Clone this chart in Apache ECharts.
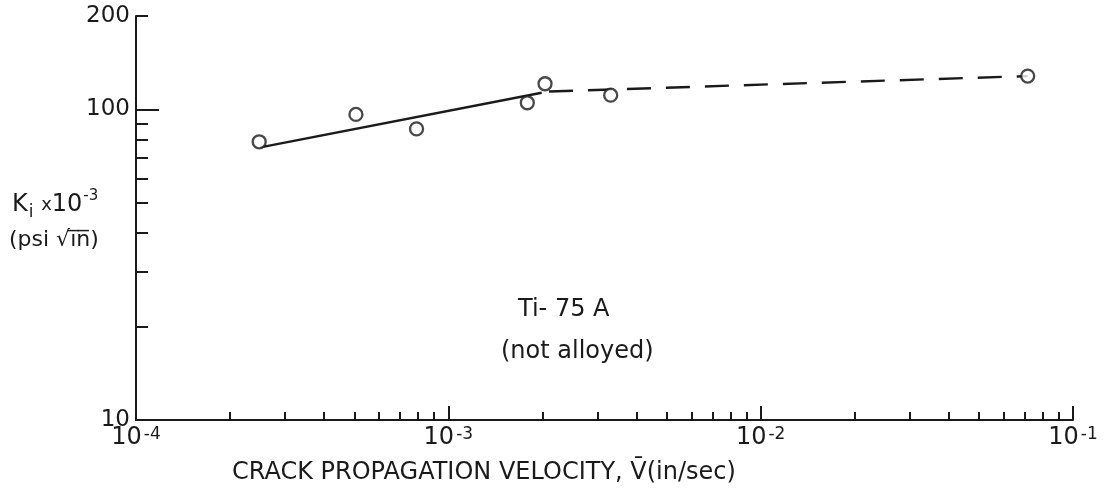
<!DOCTYPE html>
<html>
<head>
<meta charset="utf-8">
<script src="https://cdn.jsdelivr.net/npm/echarts/dist/echarts.min.js"></script>
<style>
html,body{margin:0;padding:0;background:#fff;}
#chart{width:1104px;height:494px;}
</style>
</head>
<body>
<div id="chart"></div>
<script>
// ---- data ----
const velocity = [2.48e-4, 5.06e-4, 7.91e-4, 1.79e-3, 2.04e-3, 3.31e-3, 7.16e-2];
const kiValues = [78.7, 96.4, 86.6, 105.1, 121.0, 111.2, 128.1];
const solidFitV = [2.5e-4, 1.99e-3];
const solidFitK = [75.5, 113.2];
const dashedFitV = [2.1e-3, 7.16e-2];
const dashedFitK = [114.3, 128.1];

// ---- tick / label values ----
const xLabelValues = [1e-4, 1e-3, 1e-2, 1e-1];
const xMajorTicks = [1e-3, 1e-2, 1e-1];
const xMinorTicks = [2e-4, 3e-4, 4e-4, 5e-4, 6e-4, 7e-4, 8e-4, 9e-4,
                     2e-3, 3e-3, 4e-3, 5e-3, 6e-3, 7e-3, 8e-3, 9e-3,
                     2e-2, 3e-2, 4e-2, 5e-2, 6e-2, 7e-2, 8e-2, 9e-2];
const yLabelValues = [10, 100, 200];
const yMajorTicks = [100];
const yMinorTicks = [20, 30, 40, 50, 60, 70, 80, 90, 200];

const INK = '#1a1a1a';
const FONT = 'DejaVu Sans';

const chart = echarts.init(document.getElementById('chart'));

const baseX = {
  type: 'log', logBase: 10, min: 1e-4, max: 1e-1,
  position: 'bottom', splitLine: {show: false}, minorTick: {show: false}
};
const baseY = {
  type: 'log', logBase: 10, min: 10, max: 200,
  position: 'left', splitLine: {show: false}, minorTick: {show: false}
};

chart.setOption({
  backgroundColor: '#ffffff',
  animation: false,
  grid: {left: 136, right: 31, top: 16, bottom: 74},
  xAxis: [
    Object.assign({}, baseX, {
      axisLine: {show: true, lineStyle: {color: INK, width: 2}},
      axisTick: {show: true, inside: true, length: 14, customValues: xMajorTicks,
                 lineStyle: {color: INK, width: 2}},
      axisLabel: {
        show: true, margin: 6, customValues: xLabelValues,
        formatter: function (v) {
          return '{b|10}{s|' + Math.round(Math.log10(v)) + '}';
        },
        rich: {
          b: {fontSize: 24, fontFamily: FONT, color: INK, lineHeight: 24, verticalAlign: 'bottom'},
          s: {fontSize: 17, fontFamily: FONT, color: INK, lineHeight: 17, verticalAlign: 'top', padding: [0, 0, 0, 2]}
        }
      }
    }),
    Object.assign({}, baseX, {
      axisLine: {show: false},
      axisTick: {show: true, inside: true, length: 8, customValues: xMinorTicks,
                 lineStyle: {color: INK, width: 2}},
      axisLabel: {show: false}
    })
  ],
  yAxis: [
    Object.assign({}, baseY, {
      axisLine: {show: true, lineStyle: {color: INK, width: 2}},
      axisTick: {show: true, inside: true, length: 23, customValues: yMajorTicks,
                 lineStyle: {color: INK, width: 2}},
      axisLabel: {show: true, margin: 6, customValues: yLabelValues,
                  fontSize: 23, fontFamily: FONT, color: INK,
                  formatter: function (v) { return String(Math.round(v)); }}
    }),
    Object.assign({}, baseY, {
      axisLine: {show: false},
      axisTick: {show: true, inside: true, length: 12, customValues: yMinorTicks,
                 lineStyle: {color: INK, width: 2}},
      axisLabel: {show: false}
    })
  ],
  series: [
    {
      type: 'line', xAxisIndex: 0, yAxisIndex: 0, z: 2,
      data: solidFitV.map((v, i) => [v, solidFitK[i]]),
      showSymbol: false, symbol: 'none',
      lineStyle: {color: INK, width: 2.4, type: 'solid'}
    },
    {
      type: 'line', xAxisIndex: 0, yAxisIndex: 0, z: 2,
      data: dashedFitV.map((v, i) => [v, dashedFitK[i]]),
      showSymbol: false, symbol: 'none',
      lineStyle: {color: INK, width: 2.4, type: [24, 15]}
    },
    {
      type: 'scatter', xAxisIndex: 0, yAxisIndex: 0, z: 3,
      data: velocity.map((v, i) => [v, kiValues[i]]),
      symbol: 'circle', symbolSize: 13,
      itemStyle: {color: '#ffffff', borderColor: INK, borderWidth: 2.3}
    }
  ],
  graphic: [
    {
      type: 'text', left: 12, top: 189,
      style: {
        text: '{b|K}{sub|i}{x| x}{b|10}{sup|-3}',
        fill: INK,
        rich: {
          b: {fontSize: 24, fontFamily: FONT, fill: INK, lineHeight: 32, verticalAlign: 'middle'},
          sub: {fontSize: 17, fontFamily: FONT, fill: INK, lineHeight: 32, verticalAlign: 'bottom', padding: [0, 2, 0, 1]},
          x: {fontSize: 18, fontFamily: FONT, fill: INK, lineHeight: 32, verticalAlign: 'middle'},
          sup: {fontSize: 15, fontFamily: FONT, fill: INK, lineHeight: 15, verticalAlign: 'top', padding: [0, 0, 0, 1]}
        }
      }
    },
    {
      type: 'text', left: 9, top: 229,
      style: {text: '(psi \u221Ai\u0305n\u0305)', font: '22px "DejaVu Sans"', fill: INK}
    },
    {
      type: 'text', left: 518, top: 298,
      style: {text: 'Ti- 75 A', font: '24px "DejaVu Sans"', fill: INK}
    },
    {
      type: 'text', left: 501, top: 340,
      style: {text: '(not alloyed)', font: '24px "DejaVu Sans"', fill: INK}
    },
    {
      type: 'text', left: 232, top: 461,
      style: {text: 'CRACK PROPAGATION VELOCITY, V\u0304(in/sec)', font: '24px "DejaVu Sans"', fill: INK}
    }
  ]
});
</script>
</body>
</html>
